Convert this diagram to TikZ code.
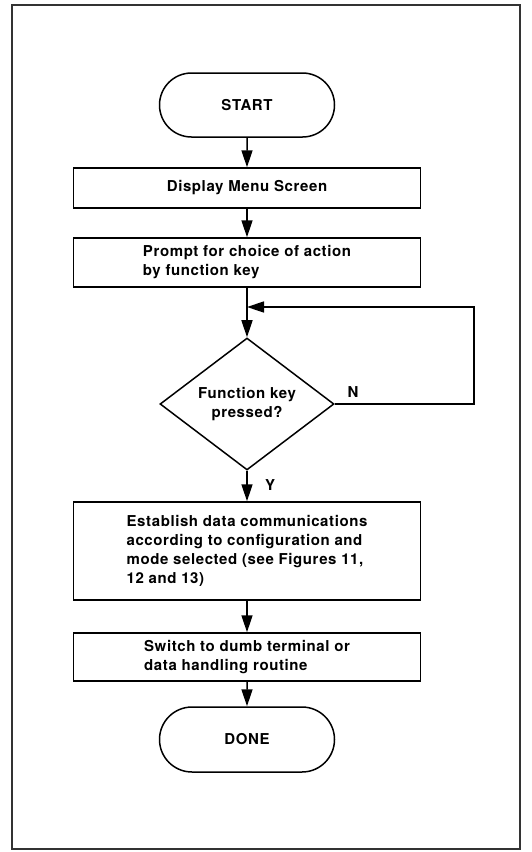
\documentclass[tikz,border=0pt]{standalone}
\usepackage{fontspec}
\setmainfont[LetterSpace=4]{TeX Gyre Heros}
\usetikzlibrary{arrows.meta,shapes.geometric,shapes.misc}

\tikzset{
  flowtext/.style={font=\fontsize{15}{19}\selectfont\bfseries},
  terminal/.style={flowtext,draw,line width=1.5pt,rounded rectangle,
    minimum width=175,minimum height=64,inner sep=0pt},
  process/.style={flowtext,draw,line width=1.5pt,align=left,
    minimum width=347,inner sep=0pt},
  decision/.style={flowtext,draw,line width=1.5pt,diamond,align=center,
    minimum width=174,minimum height=132,inner sep=0pt},
  flowline/.style={line width=1.5pt,-{Triangle[length=17pt,width=11pt]}}
}

\begin{document}
\begin{tikzpicture}[x=1pt,y=-1pt]
  \def\cx{247}

  \useasboundingbox (0,0) rectangle (532,852);

  % ================= frame =================
  \draw[line width=1.2pt,black!80] (12,5) rectangle (520,849);

  % ================= steps =================
  \node[terminal] (start) at (\cx,105) {START};
  \node[process,minimum height=40] (menu) at (\cx,188) {Display Menu Screen};
  \node[process,minimum height=49] (prompt) at (\cx,262.5)
    {Prompt for choice of action\\by function key};
  \node[decision] (keypressed) at (\cx,404) {Function key\\pressed?};
  \node[process,minimum height=98] (establish) at (\cx,551)
    {Establish data communications\\according to configuration and\\mode selected (see Figures 11,\\12 and 13)};
  \node[process,minimum height=48] (switch) at (\cx,657)
    {Switch to dumb terminal or\\data handling routine};
  \node[terminal,minimum height=65] (done) at (\cx,739.5) {DONE};

  % ================= connectors =================
  \coordinate (loopjoin) at (\cx,307);
  \draw[flowline] (start) -- (menu);
  \draw[flowline] (menu) -- (prompt);
  \draw[flowline] (prompt) -- (keypressed);
  \draw[flowline] (keypressed.east) -- ++(139,0) |- (loopjoin);
  \draw[flowline] (keypressed) -- (establish);
  \draw[flowline] (establish) -- (switch);
  \draw[flowline] (switch) -- (done);

  % ================= branch labels =================
  \node[flowtext] (nolabel) at (353,392) {N};
  \node[flowtext] (yeslabel) at (270,485) {Y};

\end{tikzpicture}
\end{document}
